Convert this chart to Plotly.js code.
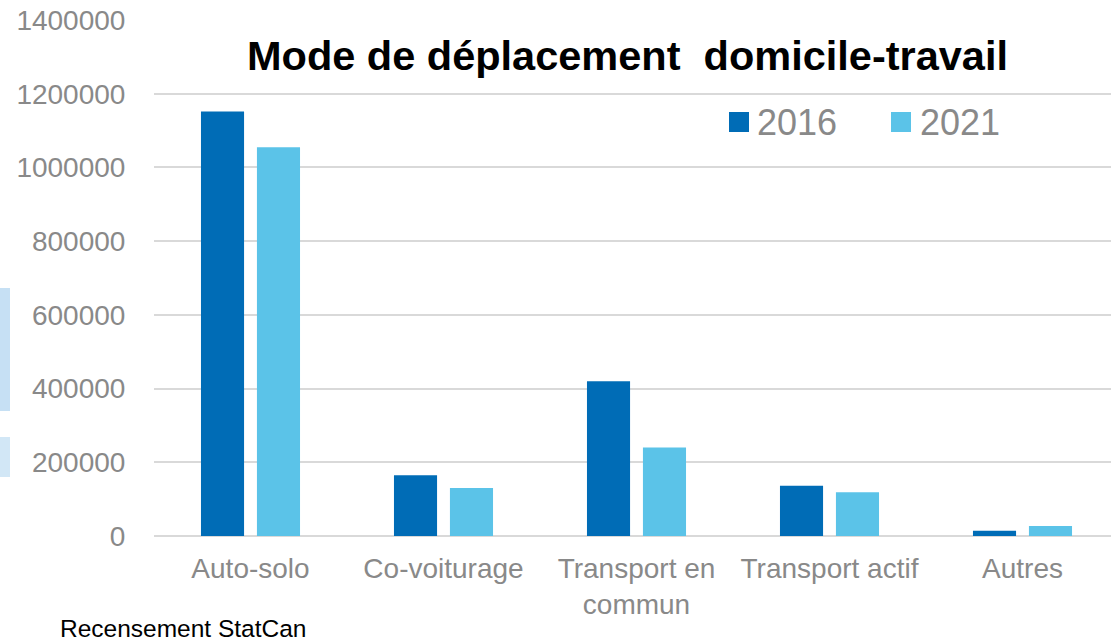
<!DOCTYPE html>
<html>
<head>
<meta charset="utf-8">
<script src="https://cdn.plot.ly/plotly-3.0.1.min.js"></script>
<style>html,body{margin:0;padding:0;background:#fff;}#chart{width:1111px;height:644px;}</style>
</head>
<body>
<div id="chart"></div>
<script>
// ---- data ----
const categories = ["Auto-solo", "Co-voiturage", "Transport en<br>commun", "Transport actif", "Autres"];
const seriesNames = ["2016", "2021"];
const values2016 = [1152000, 165000, 420000, 136000, 14000];
const values2021 = [1055000, 130000, 240000, 119000, 27000];
const yTickVals = [0, 200000, 400000, 600000, 800000, 1000000, 1200000, 1400000];
const titleText = "Mode de déplacement  domicile-travail";
const sourceText = "Recensement StatCan";

const colors = ["#006CB6", "#5BC3E8"];
const font = "Liberation Sans, Arial, sans-serif";

const traces = [
  {type: "bar", x: categories, y: values2016, name: seriesNames[0], marker: {color: colors[0]}},
  {type: "bar", x: categories, y: values2021, name: seriesNames[1], marker: {color: colors[1]}}
];

// plot area in pixels: x 154..1111, y 20..536
const L = 154, R = 1111, T = 20, B = 536;
const px = v => (v - L) / (R - L);
const py = v => (B - v) / (B - T);

const shapes = [
  // legend swatches
  {type: "rect", xref: "paper", yref: "paper", x0: px(729), x1: px(749), y0: py(132), y1: py(112), fillcolor: colors[0], line: {width: 0}},
  {type: "rect", xref: "paper", yref: "paper", x0: px(891), x1: px(911), y0: py(132), y1: py(112), fillcolor: colors[1], line: {width: 0}},
  // light blue fragments at left edge
  {type: "rect", xref: "paper", yref: "paper", x0: px(0), x1: px(10), y0: py(411), y1: py(288), fillcolor: "#C6E0F4", line: {width: 0}, layer: "below"},
  {type: "rect", xref: "paper", yref: "paper", x0: px(0), x1: px(10), y0: py(477), y1: py(437), fillcolor: "#D2E7F6", line: {width: 0}, layer: "below"}
];

const annotations = [
  {xref: "paper", yref: "paper", x: px(755), y: py(122), xanchor: "left", yanchor: "middle", text: seriesNames[0], showarrow: false, font: {family: font, size: 36, color: "#898989"}},
  {xref: "paper", yref: "paper", x: px(918), y: py(122), xanchor: "left", yanchor: "middle", text: seriesNames[1], showarrow: false, font: {family: font, size: 36, color: "#898989"}},
  {xref: "paper", yref: "paper", x: px(58), y: py(628), xanchor: "left", yanchor: "middle", text: sourceText, showarrow: false, font: {family: font, size: 24.5, color: "#000000"}}
];

const layout = {
  width: 1111, height: 644,
  margin: {l: L, r: 1111 - R, t: T, b: 644 - B, pad: 0},
  paper_bgcolor: "#ffffff", plot_bgcolor: "#ffffff",
  barmode: "group", bargap: 0.42, bargroupgap: 0.23,
  showlegend: false,
  title: {text: titleText, font: {family: font, size: 41.5, color: "#000000", weight: "bold"}, x: px(627.5), xanchor: "center", xref: "paper", y: 1 - 55 / 644, yanchor: "middle", yref: "container"},
  xaxis: {
    range: [-0.5, -0.5 + (R - L) / 193],
    tickfont: {family: font, size: 28, color: "#898989"},
    ticks: "outside", ticklen: 7, tickcolor: "rgba(0,0,0,0)",
    showline: false, showgrid: false, zeroline: false, fixedrange: true
  },
  yaxis: {
    range: [0, 1400000], tickvals: yTickVals, tickformat: "d",
    tickfont: {family: font, size: 28, color: "#898989"},
    ticks: "outside", ticklen: 22, tickcolor: "rgba(0,0,0,0)",
    showgrid: true, gridcolor: "#D9D9D9", gridwidth: 2,
    zeroline: true, zerolinecolor: "#D9D9D9", zerolinewidth: 2,
    showline: false, fixedrange: true
  },
  shapes: shapes,
  annotations: annotations
};

Plotly.newPlot("chart", traces, layout, {displayModeBar: false, staticPlot: true});
</script>
</body>
</html>
